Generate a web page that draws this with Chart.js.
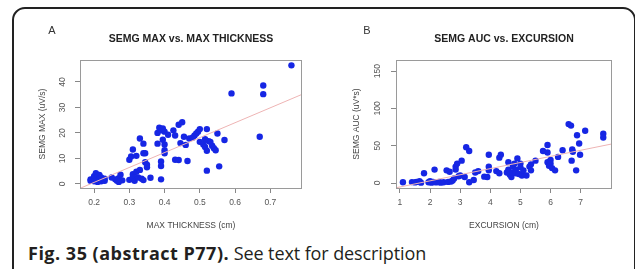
<!DOCTYPE html>
<html>
<head>
<meta charset="utf-8">
<script src="https://cdn.jsdelivr.net/npm/chart.js@4.4.0/dist/chart.umd.min.js"></script>
<style>
  body { margin: 0; background: #fff; width: 635px; height: 269px; overflow: hidden; position: relative; }
  .frame { position: absolute; left: 12px; top: 7px; width: 620px; height: 300px; border: 2px solid #222; border-radius: 13px; }
  canvas { position: absolute; top: 0; }
  #chartA { left: 0; }
  #chartB { left: 316px; }
  .caption { position: absolute; left: 28px; top: 241px; font-family: "Open Sans", sans-serif; font-size: 18px; color: #231f20; white-space: nowrap; }
  .caption b { font-weight: 700; font-size: 18px; letter-spacing: 0.5px; }
  .caption span { font-size: 18px; letter-spacing: -0.1px; }
</style>
</head>
<body>
<div class="frame"></div>
<canvas id="chartA" width="318" height="236"></canvas>
<canvas id="chartB" width="319" height="236"></canvas>
<div class="caption"><b>Fig. 35 (abstract P77).</b><span> See text for description</span></div>
<script>
// Panel A: SEMG MAX vs. MAX THICKNESS
var thicknessA = [0.19, 0.19, 0.20, 0.20, 0.205, 0.21, 0.21, 0.215, 0.215, 0.22, 0.22, 0.225, 0.23, 0.23, 0.21, 0.20,
    0.26, 0.265, 0.27, 0.275, 0.28, 0.27, 0.25,
    0.30, 0.30, 0.305, 0.31, 0.31, 0.31, 0.315, 0.32, 0.32, 0.325, 0.33, 0.33, 0.335, 0.34, 0.34, 0.345, 0.345, 0.35, 0.35, 0.34,
    0.36, 0.38, 0.38, 0.385, 0.39, 0.39, 0.39, 0.39, 0.395, 0.40, 0.40, 0.40, 0.40, 0.41, 0.395,
    0.425, 0.43, 0.43, 0.44, 0.44, 0.445, 0.45, 0.455, 0.46, 0.465, 0.47, 0.48, 0.485, 0.49, 0.495, 0.50,
    0.50, 0.51, 0.515, 0.52, 0.52, 0.52, 0.525, 0.53, 0.535, 0.54, 0.545, 0.55, 0.555, 0.57, 0.515,
    0.59, 0.67, 0.68, 0.68, 0.76];
var semgMaxA = [1.8, 1.2, 2.2, 3.0, 4.2, 2.8, 1.5, 3.5, 2.0, 1.0, 2.5, 1.5, 1.2, 2.0, 0.8, 1.0,
    1.8, 1.2, 2.2, 3.6, 1.4, 0.8, 2.5,
    1.6, 9.5, 10.8, 13.5, 3.8, 2.6, 1.2, 4.8, 11.0, 2.5, 17.8, 5.5, 2.0, 15.8, 12.0, 12.0, 8.5, 6.5, 7.5, 1.5,
    2.4, 20.0, 15.8, 22.0, 21.0, 8.8, 7.0, 1.8, 17.3, 15.5, 13.2, 12.0, 20.5, 19.3, 21.8,
    21.0, 19.0, 9.5, 23.2, 9.4, 16.0, 24.2, 18.5, 15.3, 9.0, 17.8, 18.2, 19.0, 19.8, 20.5, 21.5,
    16.5, 15.5, 14.5, 21.5, 13.0, 5.2, 16.8, 16.5, 15.0, 14.0, 13.2, 19.8, 6.9, 17.2, 17.5,
    35.5, 18.5, 38.6, 35.2, 46.5];
var fitA = [58.5, -11.1];          // slope, intercept
var xTicksA = [0.2, 0.3, 0.4, 0.5, 0.6, 0.7];
var yTicksA = [0, 10, 20, 30, 40];

// Panel B: SEMG AUC vs. EXCURSION
var excursionB = [1.1, 1.4, 1.5, 1.55, 1.65, 1.7, 1.8, 1.95, 2.0, 2.05, 2.1, 2.15, 2.2, 2.3, 2.35, 2.45, 2.55, 2.6, 2.65, 2.7,
    2.75, 2.8, 2.85, 2.85, 2.9, 2.95, 3.05, 3.0, 3.15, 3.2, 3.3, 3.3, 3.45, 3.5, 3.6, 3.8, 3.9, 3.95, 3.95, 3.95,
    4.2, 4.3, 4.3, 4.35, 4.55, 4.6, 4.6, 4.65, 4.7, 4.75, 4.75, 4.8, 4.85, 4.85, 4.9, 4.95, 5.0, 5.0, 5.05, 5.1,
    5.2, 5.3, 5.35, 5.35, 5.5, 5.75, 5.9, 5.9, 5.9, 5.95, 6.0, 6.0, 6.05, 6.15, 6.25, 6.4,
    6.6, 6.68, 6.72, 6.74, 6.7, 6.85, 6.88, 6.95, 6.98, 7.15, 7.75, 7.75];
var semgAucB = [1, 1.2, 0.8, 1.5, 2.5, 0.5, 13, 1, 2.5, 0.5, 1.5, 18, 0.8, 1.5, 0.5, 1, 17, 1.5, 15, 2,
    3.5, 6, 22, 18, 26, 9, 30, 10, 8, 48, 43, 1, 4, 14, 16, 8.5, 8, 38, 22, 17,
    16, 13, 34, 38, 14, 28, 18, 11, 8, 22, 14, 26, 18, 13, 33, 12, 21, 26, 10, 17,
    10, 22, 17, 25, 30, 43, 51, 41, 28, 23, 31, 26, 20, 17, 35, 44,
    79, 77, 45, 42, 30, 17, 64, 53, 38, 70, 66, 61];
var fitB = [8.2, -13.5];
var xTicksB = [1, 2, 3, 4, 5, 6, 7];
var yTicksB = [0, 50, 100, 150];

var FONT = '"Liberation Sans", Arial, sans-serif';
var DOT = '#1626e4';

function toPoints(xs, ys) {
    return xs.map(function (x, i) { return { x: x, y: ys[i] }; });
}

// box around the plot, rotated y tick labels, panel letter and title
var panelPlugin = {
    id: 'panel',
    afterDraw: function (chart, args, opts) {
        var ctx = chart.ctx;
        var a = chart.chartArea;
        ctx.save();
        ctx.strokeStyle = '#9a9a9a';
        ctx.lineWidth = 1;
        ctx.strokeRect(a.left + 0.5, a.top + 0.5, a.right - a.left - 1, a.bottom - a.top);

        var ys = chart.scales.y;
        ctx.fillStyle = '#555';
        ctx.font = '8.5px ' + FONT;
        ctx.textAlign = 'center';
        ctx.textBaseline = 'middle';
        ys.ticks.forEach(function (t) {
            var py = ys.getPixelForValue(t.value);
            ctx.save();
            ctx.translate(a.left - opts.tickOffset, py);
            ctx.rotate(-Math.PI / 2);
            ctx.fillText(String(t.value), 0, 0);
            ctx.restore();
        });

        ctx.fillStyle = '#222';
        ctx.font = 'bold 10.5px ' + FONT;
        ctx.fillText(opts.title, (a.left + a.right) / 2, 39);
        ctx.font = '11px ' + FONT;
        ctx.fillStyle = '#333';
        ctx.fillText(opts.letter, opts.letterX, 31);
        ctx.restore();
    }
};

function makeChart(id, xs, ys, fit, xTicks, yTicks, range, texts, padRight) {
    var ctx = document.getElementById(id).getContext('2d');
    return new Chart(ctx, {
        type: 'scatter',
        data: {
            datasets: [{
                data: toPoints(xs, ys),
                backgroundColor: DOT,
                borderWidth: 0,
                pointRadius: 3.2,
                order: 2
            }, {
                type: 'line',
                data: [
                    { x: range.xmin, y: fit[0] * range.xmin + fit[1] },
                    { x: range.xmax, y: fit[0] * range.xmax + fit[1] }
                ],
                borderColor: '#eeb4b4',
                borderWidth: 1,
                pointRadius: 0,
                showLine: true,
                order: 1
            }]
        },
        options: {
            responsive: false,
            animation: false,
            layout: { padding: { top: 60, right: padRight, left: 0, bottom: 0 } },
            plugins: {
                legend: { display: false },
                tooltip: { enabled: false },
                panel: texts
            },
            scales: {
                x: {
                    type: 'linear',
                    min: range.xmin,
                    max: range.xmax,
                    afterBuildTicks: function (s) { s.ticks = xTicks.map(function (v) { return { value: v }; }); },
                    afterFit: function (s) { s.height = 48; },
                    grid: { drawOnChartArea: false, drawTicks: true, tickLength: 5, color: '#888' },
                    border: { display: false },
                    ticks: {
                        color: '#555', font: { family: FONT, size: 8.5 }, padding: 5,
                        maxRotation: 0, autoSkip: false,
                        callback: function (v) { return String(v); }
                    },
                    title: {
                        display: true, text: texts.xTitle, color: '#444',
                        font: { family: FONT, size: 8.5 }, padding: { top: 0, bottom: 5 }
                    }
                },
                y: {
                    type: 'linear',
                    min: range.ymin,
                    max: range.ymax,
                    afterBuildTicks: function (s) { s.ticks = yTicks.map(function (v) { return { value: v }; }); },
                    afterFit: function (s) { s.width = 80; },
                    grid: { drawOnChartArea: false, drawTicks: true, tickLength: 5, color: '#888' },
                    border: { display: false },
                    ticks: { display: false },
                    title: {
                        display: true, text: texts.yTitle, color: '#444',
                        font: { family: FONT, size: 8.5 }, padding: { top: texts.yTitlePad, bottom: 0 }
                    }
                }
            }
        },
        plugins: [panelPlugin]
    });
}

makeChart('chartA', thicknessA, semgMaxA, fitA, xTicksA, yTicksA,
    { xmin: 0.16, xmax: 0.79, ymin: -1.6, ymax: 48.6 },
    { title: 'SEMG MAX vs. MAX THICKNESS', letter: 'A', letterX: 52, tickOffset: 17,
      xTitle: 'MAX THICKNESS (cm)', yTitle: 'SEMG MAX (uV/s)', yTitlePad: 38 }, 16);

makeChart('chartB', excursionB, semgAucB, fitB, xTicksB, yTicksB,
    { xmin: 0.87, xmax: 8.04, ymin: -6.7, ymax: 165 },
    { title: 'SEMG AUC vs. EXCURSION', letter: 'B', letterX: 51, tickOffset: 18,
      xTitle: 'EXCURSION (cm)', yTitle: 'SEMG AUC (uV*s)', yTitlePad: 36 }, 23);
</script>
</body>
</html>
